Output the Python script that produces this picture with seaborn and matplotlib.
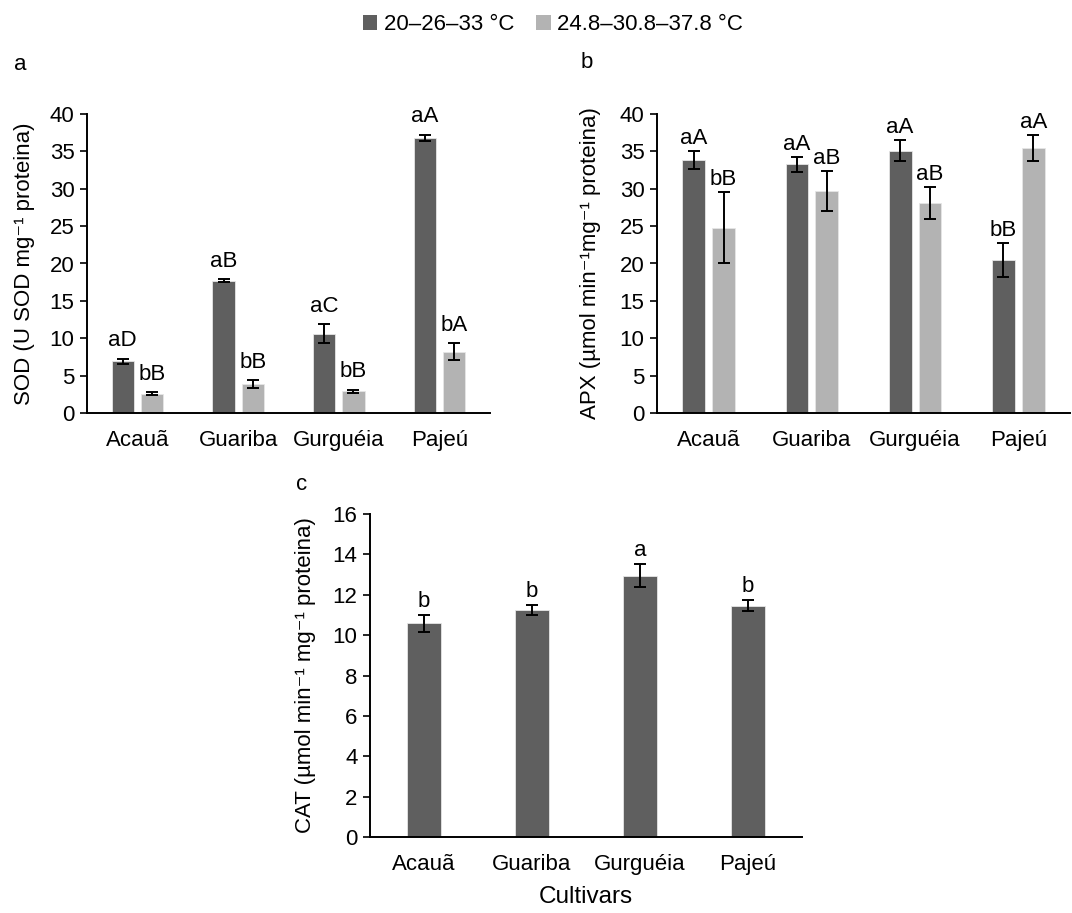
import matplotlib
matplotlib.use("Agg")
import matplotlib.pyplot as plt
import numpy as np
import pandas as pd
import seaborn as sns

# ---- data ----
cultivars = ["Acauã", "Guariba", "Gurguéia", "Pajeú"]
regimes = ["20–26–33 °C", "24.8–30.8–37.8 °C"]

sod_cool = [6.9, 17.7, 10.6, 36.8]
sod_cool_err = [0.35, 0.2, 1.25, 0.4]
sod_warm = [2.6, 3.9, 2.9, 8.2]
sod_warm_err = [0.2, 0.5, 0.2, 1.1]
sod_letters_cool = ["aD", "aB", "aC", "aA"]
sod_letters_warm = ["bB", "bB", "bB", "bA"]

apx_cool = [33.9, 33.3, 35.1, 20.5]
apx_cool_err = [1.2, 1.0, 1.45, 2.3]
apx_warm = [24.8, 29.7, 28.1, 35.5]
apx_warm_err = [4.8, 2.65, 2.2, 1.75]
apx_letters_cool = ["aA", "aA", "aA", "bB"]
apx_letters_warm = ["bB", "aB", "aB", "aA"]

cat_mean = [10.58, 11.23, 12.95, 11.46]
cat_err = [0.42, 0.25, 0.57, 0.28]
cat_letters = ["b", "b", "a", "b"]

# ---- style ----
sns.set_theme(style="white")
plt.rcParams["font.family"] = ["Liberation Sans", "DejaVu Sans"]
for key in ("text.color", "axes.labelcolor", "xtick.color", "ytick.color"):
    plt.rcParams[key] = "black"
FS = 16
DARK = "#5f5f5f"
LIGHT = "#b3b3b3"

fig = plt.figure(figsize=(10.72, 9.13), dpi=100)
W, H = 1072, 913


def axes_px(x0, y0, x1, y1):
    return fig.add_axes([x0 / W, 1 - y1 / H, (x1 - x0) / W, (y1 - y0) / H])


def style_axes(ax, ylim, step):
    ax.set_ylim(*ylim)
    ax.set_yticks(np.arange(ylim[0], ylim[1] + 0.01, step))
    ax.set_xlim(-0.5, 3.5)
    sns.despine(ax=ax)
    for s in ("left", "bottom"):
        ax.spines[s].set_color("black")
        ax.spines[s].set_linewidth(1.4)
    ax.tick_params(axis="y", direction="out", length=5, width=1.2,
                   color="black", labelsize=FS, pad=4, left=True)
    ax.tick_params(axis="x", length=0, labelsize=FS, pad=12)
    ax.set_xlabel("")


def add_err_and_letters(ax, container, errs, letters, offset):
    xs = [p.get_x() + p.get_width() / 2 for p in container.patches]
    hs = [p.get_height() for p in container.patches]
    ax.errorbar(xs, hs, yerr=errs, fmt="none", ecolor="black",
                elinewidth=1.4, capsize=4, capthick=1.4, zorder=3)
    for x, h, e, t in zip(xs, hs, errs, letters):
        ax.annotate(t, (x, h + e), xytext=(0, offset), textcoords="offset points",
                    ha="center", va="baseline", fontsize=FS)


def paired_panel(ax, cool, warm, cool_err, warm_err, lc, lw, offset):
    df = pd.DataFrame({
        "cultivar": cultivars * 2,
        "regime": [regimes[0]] * 4 + [regimes[1]] * 4,
        "value": cool + warm,
    })
    sns.barplot(data=df, x="cultivar", y="value", hue="regime",
                hue_order=regimes, order=cultivars,
                palette=[DARK, LIGHT], width=0.58, gap=0.24,
                errorbar=None, edgecolor="#e6e6e6", linewidth=0.6,
                legend=False, ax=ax)
    add_err_and_letters(ax, ax.containers[0], cool_err, lc, offset)
    add_err_and_letters(ax, ax.containers[1], warm_err, lw, offset)


# panel a: SOD
ax_a = axes_px(87, 114, 490, 413)
paired_panel(ax_a, sod_cool, sod_warm, sod_cool_err, sod_warm_err,
             sod_letters_cool, sod_letters_warm, 9)
style_axes(ax_a, (0, 40), 5)
ax_a.set_ylabel("SOD (U SOD mg⁻¹ proteina)", fontsize=FS)
ax_a.yaxis.set_label_coords(-0.13, 0.5)

# panel b: APX
ax_b = axes_px(657, 114, 1070, 413)
paired_panel(ax_b, apx_cool, apx_warm, apx_cool_err, apx_warm_err,
             apx_letters_cool, apx_letters_warm, 5)
style_axes(ax_b, (0, 40), 5)
ax_b.set_ylabel("APX (µmol min⁻¹mg⁻¹ proteina)", fontsize=FS)
ax_b.yaxis.set_label_coords(-0.135, 0.5)

# panel c: CAT
ax_c = axes_px(370, 514, 802, 837)
df_c = pd.DataFrame({"cultivar": cultivars, "value": cat_mean})
sns.barplot(data=df_c, x="cultivar", y="value", order=cultivars,
            color=DARK, saturation=1, width=0.31, errorbar=None,
            edgecolor="#e6e6e6", linewidth=0.6, ax=ax_c)
add_err_and_letters(ax_c, ax_c.containers[0], cat_err, cat_letters, 6)
style_axes(ax_c, (0, 16), 2)
ax_c.set_ylabel("CAT (µmol min⁻¹ mg⁻¹ proteina)", fontsize=FS)
ax_c.yaxis.set_label_coords(-0.125, 0.5)
ax_c.set_xlabel("Cultivars", fontsize=FS + 1.5, labelpad=8)

# panel letters
fig.text(20 / W, 1 - 64 / H, "a", fontsize=FS, ha="center", va="center")
fig.text(587 / W, 1 - 63 / H, "b", fontsize=FS, ha="center", va="center")
fig.text(302 / W, 1 - 485 / H, "c", fontsize=FS, ha="center", va="center")

# shared legend
handles = [plt.Rectangle((0, 0), 1, 1, facecolor=c, edgecolor="none") for c in (DARK, LIGHT)]
fig.legend(handles, regimes, loc="center", bbox_to_anchor=(553 / W, 1 - 25 / H),
           ncol=2, frameon=False, fontsize=FS, handlelength=0.65,
           handleheight=0.65, handletextpad=0.3, columnspacing=1.0)

fig.savefig("out.png", dpi=100)
